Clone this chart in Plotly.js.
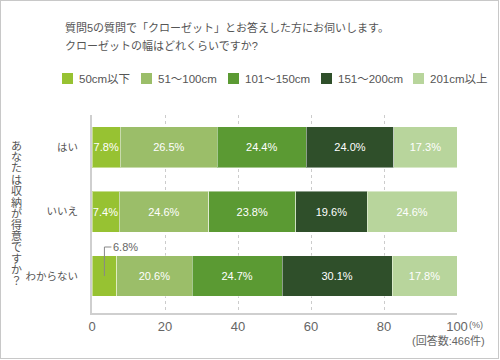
<!DOCTYPE html>
<html>
<head>
<meta charset="utf-8">
<script src="https://cdn.plot.ly/plotly-3.0.1.min.js"></script>
<style>
html,body{margin:0;padding:0;background:#fff;}
#wrap{position:relative;width:500px;height:360px;}
#chart{position:absolute;left:0;top:0;width:500px;height:360px;}
#frame{position:absolute;left:0;top:0;width:499px;height:359px;box-sizing:border-box;border:1px solid #c8c8c8;pointer-events:none;}
</style>
</head>
<body>
<div id="wrap"><div id="chart"></div><div id="frame"></div></div>
<script>
// ---- data ----
const categories = ['はい', 'いいえ', 'わからない'];
const seriesNames = ['50cm以下', '51～100cm', '101～150cm', '151～200cm', '201cm以上'];
const s50 = [7.8, 7.4, 6.8];
const s100 = [26.5, 24.6, 20.6];
const s150 = [24.4, 23.8, 24.7];
const s200 = [24.0, 19.6, 30.1];
const s201 = [17.3, 24.6, 17.8];
const xTickVals = [0, 20, 40, 60, 80, 100];
const xTickText = ['0', '20', '40', '60', '80', '100'];
const titleLines = ['質問5の質問で「クローゼット」とお答えした方にお伺いします。', 'クローゼットの幅はどれくらいですか?'];
const yTitle = 'あなたは収納が得意ですか？';
const unitText = '(%)';
const noteText = '(回答数:466件)';

// ---- styles ----
const colors = ['#97c232', '#9bbe69', '#5b9a33', '#2f4f2a', '#b8d59c'];
const FONT = '"Liberation Sans", "Noto Sans CJK JP", sans-serif';
const M = {l: 92, r: 43, t: 115, b: 47};
const W = 500 - M.l - M.r, H = 360 - M.t - M.b;
const xp = px => (px - M.l) / W;
const yp = py => (360 - M.b - py) / H;
const minInside = 7;

const allSeries = [s50, s100, s150, s200, s201];
const traces = allSeries.map((vals, i) => ({
  type: 'bar',
  orientation: 'h',
  name: seriesNames[i],
  y: categories,
  x: vals,
  marker: {color: colors[i], line: {color: 'rgba(255,255,255,0.45)', width: 1}},
  text: vals.map(v => v >= minInside ? v.toFixed(1) + '%' : ''),
  textposition: 'inside',
  insidetextanchor: 'middle',
  textangle: 0,
  constraintext: 'none',
  textfont: {color: '#ffffff', size: 11, family: FONT},
  hoverinfo: 'name+x',
  showlegend: false
}));

const annotations = [];
const shapes = [];

// title lines
titleLines.forEach((t, i) => annotations.push({
  xref: 'paper', yref: 'paper', x: xp(63), y: yp(28 + i * 18),
  xanchor: 'left', yanchor: 'middle', showarrow: false, text: t,
  font: {size: 11, color: '#555', family: FONT}
}));

// custom legend
const legendX = [62, 141, 228, 321, 413];
seriesNames.forEach((n, i) => {
  shapes.push({type: 'rect', xref: 'paper', yref: 'paper',
    x0: xp(legendX[i]), x1: xp(legendX[i] + 11), y0: yp(84), y1: yp(73),
    fillcolor: colors[i], line: {width: 0}});
  annotations.push({xref: 'paper', yref: 'paper', x: xp(legendX[i] + 14.5), y: yp(78.5),
    xanchor: 'left', yanchor: 'middle', showarrow: false, text: n,
    font: {size: 11.5, color: '#555', family: FONT}});
});

// vertical y title
Array.from(yTitle).forEach((ch, i) => annotations.push({
  xref: 'paper', yref: 'paper', x: xp(16.5), y: yp(145.7 + i * 11.3),
  xanchor: 'center', yanchor: 'middle', showarrow: false, text: ch,
  font: {size: 11, color: '#555', family: FONT}
}));

// outside labels with leader line
categories.forEach((c, ci) => {
  const v = s50[ci];
  if (v < minInside) {
    shapes.push({type: 'path', xref: 'x', yref: 'y',
      xsizemode: 'pixel', ysizemode: 'pixel', xanchor: v / 2, yanchor: ci,
      path: 'M0,0V29H7', line: {color: '#888', width: 1}});
    annotations.push({xref: 'x', yref: 'y', x: v / 2, y: c, xshift: 7, yshift: 29,
      xanchor: 'left', yanchor: 'middle', showarrow: false, text: v.toFixed(1) + '%',
      font: {size: 11, color: '#666', family: FONT}});
  }
});

// unit and note
annotations.push({xref: 'x', yref: 'paper', x: 100, y: yp(325), xshift: 10,
  xanchor: 'left', yanchor: 'middle', showarrow: false, text: unitText,
  font: {size: 9, color: '#666', family: FONT}});
annotations.push({xref: 'paper', yref: 'paper', x: xp(487), y: yp(340),
  xanchor: 'right', yanchor: 'middle', showarrow: false, text: noteText,
  font: {size: 11, color: '#666', family: FONT}});

const layout = {
  width: 500, height: 360,
  margin: M,
  paper_bgcolor: '#fff', plot_bgcolor: '#fff',
  barmode: 'stack',
  bargap: 0.365,
  showlegend: false,
  font: {family: FONT, color: '#555'},
  uniformtext: {minsize: 11, mode: 'show'},
  xaxis: {
    range: [0, 100], tickvals: xTickVals, ticktext: xTickText,
    showgrid: true, gridcolor: '#cccccc', griddash: 'dot', gridwidth: 1,
    zeroline: false, showline: true, linecolor: '#cfcfcf', linewidth: 2,
    ticks: '', tickfont: {size: 13, color: '#666', family: FONT},
    fixedrange: true
  },
  yaxis: {
    autorange: 'reversed', showgrid: false, zeroline: false,
    showline: true, linecolor: '#cfcfcf', linewidth: 2,
    ticks: '', ticklabelstandoff: 10,
    tickfont: {size: 10.5, color: '#555', family: FONT},
    fixedrange: true
  },
  annotations: annotations,
  shapes: shapes
};

Plotly.newPlot('chart', traces, layout, {displayModeBar: false, staticPlot: true});
</script>
</body>
</html>
